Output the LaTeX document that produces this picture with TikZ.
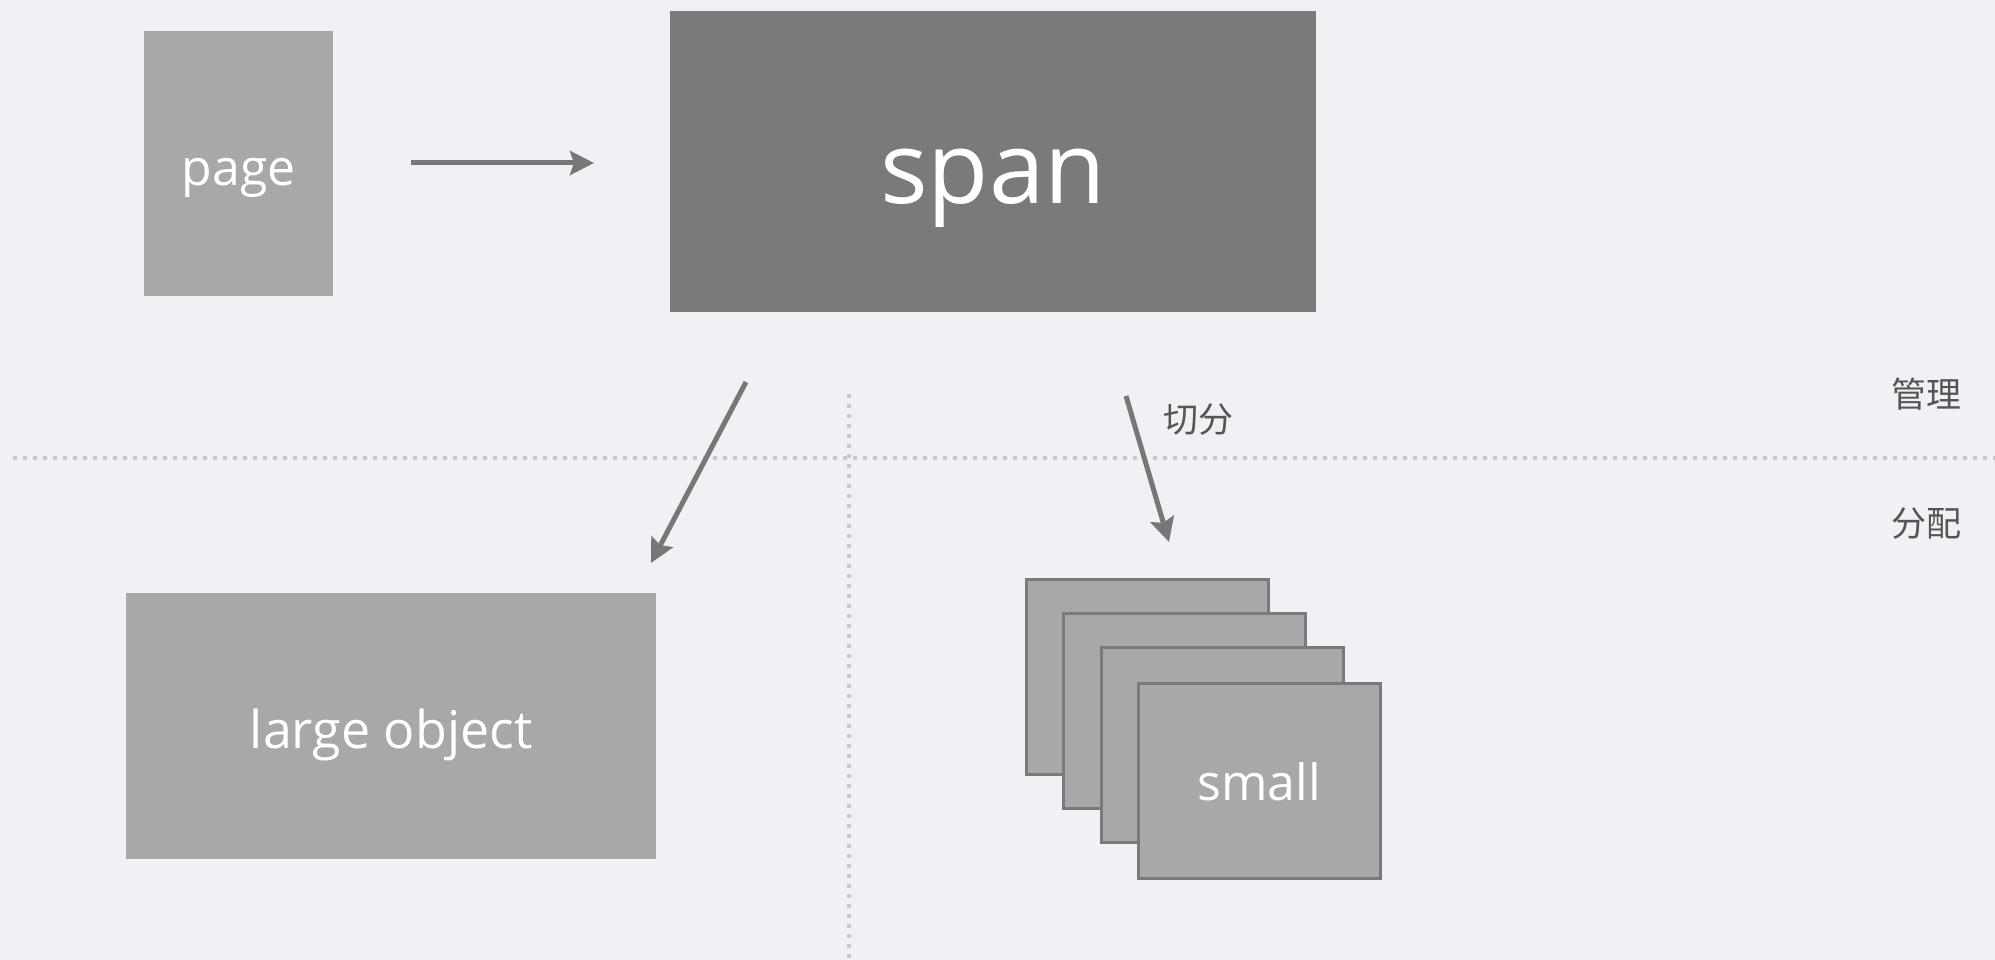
\documentclass[tikz,border=0pt]{standalone}
\usepackage{fontspec}
\setmainfont{Open Sans}
\newfontfamily\cjk{Noto Sans CJK SC}
\usetikzlibrary{arrows.meta}
\definecolor{bgcol}{HTML}{EFF1F4}
\definecolor{darkbox}{HTML}{7A7A7A}
\definecolor{lightbox}{HTML}{A8A8A8}
\definecolor{linecol}{HTML}{777777}
\definecolor{dotcol}{HTML}{C8CACD}
\definecolor{labelcol}{HTML}{555555}
\tikzset{
  box/.style={fill=lightbox, text=white, inner sep=0pt, anchor=north west,
    text height=44pt, text depth=0pt, font=\fontsize{50}{55}\selectfont},
  smallbox/.style={box, draw=darkbox, line width=2.5pt,
    minimum width=242pt, minimum height=195pt},
  arr/.style={draw=linecol, line width=5pt,
    -{Stealth[length=24pt,width=24pt,inset=4pt]}},
  sep/.style={draw=dotcol, line width=4pt, dash pattern=on 4pt off 6pt},
  tag/.style={text=labelcol, font=\cjk\fontsize{35}{40}\selectfont}
}
\begin{document}
\begin{tikzpicture}[x=1pt,y=-1pt]
      \fill[bgcol] (0,0) rectangle (1995,960);
      \useasboundingbox (0,0) rectangle (1995,960);
      % separators
      \draw[sep] (13,458) -- (1995,458);
      \draw[sep] (849,394) -- (849,960);
      \draw
        (144,31) node[box, minimum width=189pt, minimum height=265pt] (page){page}
        (670,11) node[box, fill=darkbox, minimum width=646pt, minimum height=301pt,
          text height=84pt, font=\fontsize{100}{110}\selectfont] (span){span}
        (126,593) node[box, minimum width=530pt, minimum height=266pt,
          font=\fontsize{52}{58}\selectfont] (large){large object}
        (1025,578) node[smallbox] (s1){}
        (1062,612) node[smallbox] (s2){}
        (1100,646) node[smallbox] (s3){}
        (1137,682) node[smallbox, text height=40pt] (small){small};
      \draw
        (1198,420) node[tag] (cut){切分}
        (1926,394) node[tag] (mgmt){管理}
        (1926,524) node[tag] (alloc){分配};
      \coordinate (p1) at (411,163);
      \coordinate (p2) at (594,163);
      \coordinate (l1) at (746,382);
      \coordinate (l2) at (651,563);
      \coordinate (c1) at (1126,396);
      \coordinate (c2) at (1169,542);
      \begin{scope}[arr]
        \draw (p1) to (p2);
        \draw (l1) to (l2);
        \draw (c1) to (c2);
      \end{scope}
    \end{tikzpicture}
\end{document}
